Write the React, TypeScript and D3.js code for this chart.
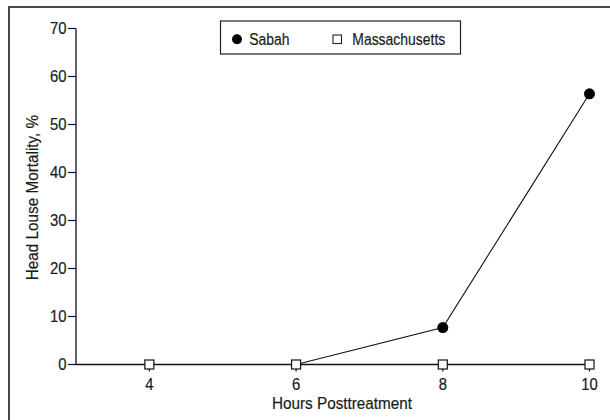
import React from "react";
import * as d3 from "d3";

const hours = [4, 6, 8, 10];
const sabah = [0, 0, 7.7, 56.4];
const massachusetts = [0, 0, 0, 0];
const yTicks = [0, 10, 20, 30, 40, 50, 60, 70];
const xTicks = [4, 6, 8, 10];
const seriesNames = ["Sabah", "Massachusetts"];
const xTitle = "Hours Posttreatment";
const yTitle = "Head Louse Mortality, %";

const FONT = "'Liberation Sans', Arial, sans-serif";

function CText(props: { x: number; y: number; size: number; anchor?: string; sx?: number; rotate?: number; children: any }) {
  const { x, y, size, anchor = "start", sx = 0.87, rotate = 0, children } = props;
  return (
    <text
      transform={`translate(${x},${y})${rotate ? ` rotate(${rotate})` : ""} scale(${sx},1)`}
      textAnchor={anchor}
      fontFamily={FONT}
      fontSize={size}
      fill="#1a1a1a"
      stroke="#1a1a1a"
      strokeWidth={0.2}
    >
      {children}
    </text>
  );
}

export default function App() {
  const x = d3.scaleLinear().domain([3, 10]).range([76, 589.5]);
  const y = d3.scaleLinear().domain([0, 70]).range([364.5, 28.5]);
  const fmt = d3.format("d");

  const line = d3.line<number>().x((_, i) => x(hours[i])).y((d) => y(d));
  const sabahLine = line(sabah) || "";
  const massLine = line(massachusetts) || "";

  return (
    <svg width={610} height={420} style={{ position: "absolute", left: 0, top: 0, background: "#fff" }}>
      <rect x={9} y={7} width={640} height={440} fill="#fff" stroke="#4a4a4a" strokeWidth={2} />
      {/* y axis */}
      <line x1={x(3)} x2={x(3)} y1={y(70)} y2={y(0)} stroke="#111" strokeWidth={1.3} />
      {yTicks.map((t) => (
        <g key={"yt" + t}>
          <line x1={x(3) - 8} x2={x(3)} y1={y(t)} y2={y(t)} stroke="#111" strokeWidth={1.2} />
          <CText x={66.5} y={y(t) + 5.7} size={16} sx={0.93} anchor="end">{fmt(t)}</CText>
        </g>
      ))}
      {/* x axis */}
      <line x1={x(3)} x2={x(10) + 4} y1={y(0)} y2={y(0)} stroke="#111" strokeWidth={1.3} />
      {xTicks.map((t) => (
        <g key={"xt" + t}>
          <line x1={x(t)} x2={x(t)} y1={y(0)} y2={y(0) + 7} stroke="#111" strokeWidth={1.2} />
          <CText x={x(t)} y={389.5} size={16} sx={0.93} anchor="middle">{fmt(t)}</CText>
        </g>
      ))}
      <path d={massLine} fill="none" stroke="#111" strokeWidth={1.1} />
      <path d={sabahLine} fill="none" stroke="#111" strokeWidth={1.1} />
      {massachusetts.map((v, i) => (
        <rect key={"m" + i} x={x(hours[i]) - 4.5} y={y(v) - 4.5} width={9} height={9} fill="#fff" stroke="#111" strokeWidth={1.2} />
      ))}
      {sabah.map((v, i) =>
        v > 0 ? <circle key={"s" + i} cx={x(hours[i])} cy={y(v)} r={5.5} fill="#000" /> : null
      )}
      <CText x={342} y={408.5} size={17} anchor="middle" sx={0.9}>{xTitle}</CText>
      <CText x={37.5} y={197.5} size={17} anchor="middle" sx={0.9} rotate={-90}>{yTitle}</CText>
      <g>
        <rect x={220.5} y={21} width={240} height={33} fill="#fff" stroke="#222" strokeWidth={1.2} />
        <circle cx={237} cy={39.3} r={5} fill="#000" />
        <CText x={249.3} y={44.8} size={16.5} sx={0.845}>{seriesNames[0]}</CText>
        <rect x={333} y={35} width={8.5} height={8.5} fill="#fff" stroke="#222" strokeWidth={1.1} />
        <CText x={352.3} y={44.8} size={16.5} sx={0.845}>{seriesNames[1]}</CText>
      </g>
    </svg>
  );
}
